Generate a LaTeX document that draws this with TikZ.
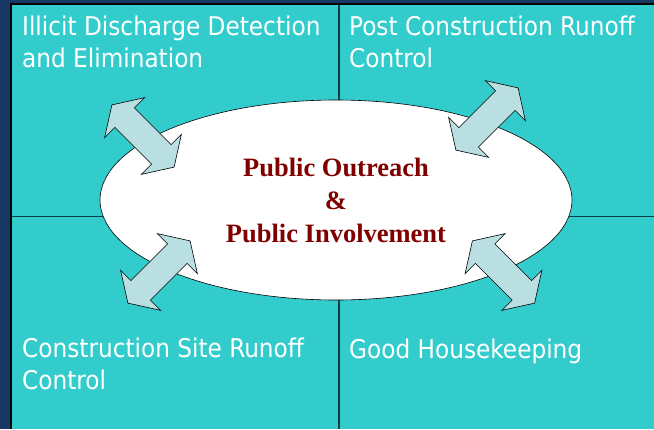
\documentclass[tikz,border=0pt]{standalone}
\usepackage{fontspec}
\setmainfont{Liberation Serif}
\newfontfamily\quadfont{DejaVu Sans Condensed}
\usetikzlibrary{shapes.geometric,shapes.arrows}
\definecolor{slideblue}{RGB}{24,56,100}
\definecolor{cellcyan}{RGB}{51,204,204}
\definecolor{arrowblue}{RGB}{186,223,226}
\definecolor{outreachred}{RGB}{128,0,0}
\definecolor{gridline}{RGB}{12,60,64}

\begin{document}
\begin{tikzpicture}[x=1pt,y=-1pt]
  % Define styles for the texts and the arrows
  \tikzstyle{quadtext}=[anchor=base west,align=left,text=white,inner sep=0pt,font=\quadfont\fontsize{25.8}{32}\selectfont]
  \tikzstyle{linkarrow}=[double arrow,draw=black,line width=0.6pt,fill=arrowblue,double arrow tip angle=115,double arrow head extend=14.5pt,inner xsep=0pt,inner ysep=13.5pt,minimum height=88pt]

  % Draw the background and the four cells
  \useasboundingbox (0,0) rectangle (654,429);
  \fill[slideblue] (0,0) rectangle (654,429);
  \fill[cellcyan] (12,5) rectangle (654,429);
  \draw[black,line width=1.5pt] (11,429) -- (11,4) -- (654,4);
  \draw[gridline,line width=1.2pt] (339,5) -- (339,429);
  \draw[gridline,line width=1.2pt] (12,216.5) -- (654,216.5);

  % Label the cells (base is the last line)
  \node[quadtext] (idde) at (22,67) {Illicit Discharge Detection\\and Elimination};
  \node[quadtext] (pcrc) at (349,67) {Post Construction Runoff\\Control};
  \node[quadtext] (csrc) at (22,389) {Construction Site Runoff\\Control};
  \node[quadtext] (gh) at (349,358) {Good Housekeeping};

  % Draw the centre ellipse
  \node[ellipse,draw=black,line width=0.6pt,fill=white,minimum width=472pt,minimum height=200pt,inner sep=0pt,align=center,text=outreachred,font=\bfseries\fontsize{26.5}{33}\selectfont] (outreach) at (336,200) {Public Outreach\\\&\\Public Involvement};

  % Connect the ellipse with the cells
  \node[linkarrow,rotate=-45] (tlarrow) at (143,136) {};
  \node[linkarrow,rotate=45] (trarrow) at (487,119) {};
  \node[linkarrow,rotate=45] (blarrow) at (159,272) {};
  \node[linkarrow,rotate=-45] (brarrow) at (503.5,272) {};
\end{tikzpicture}
\end{document}
